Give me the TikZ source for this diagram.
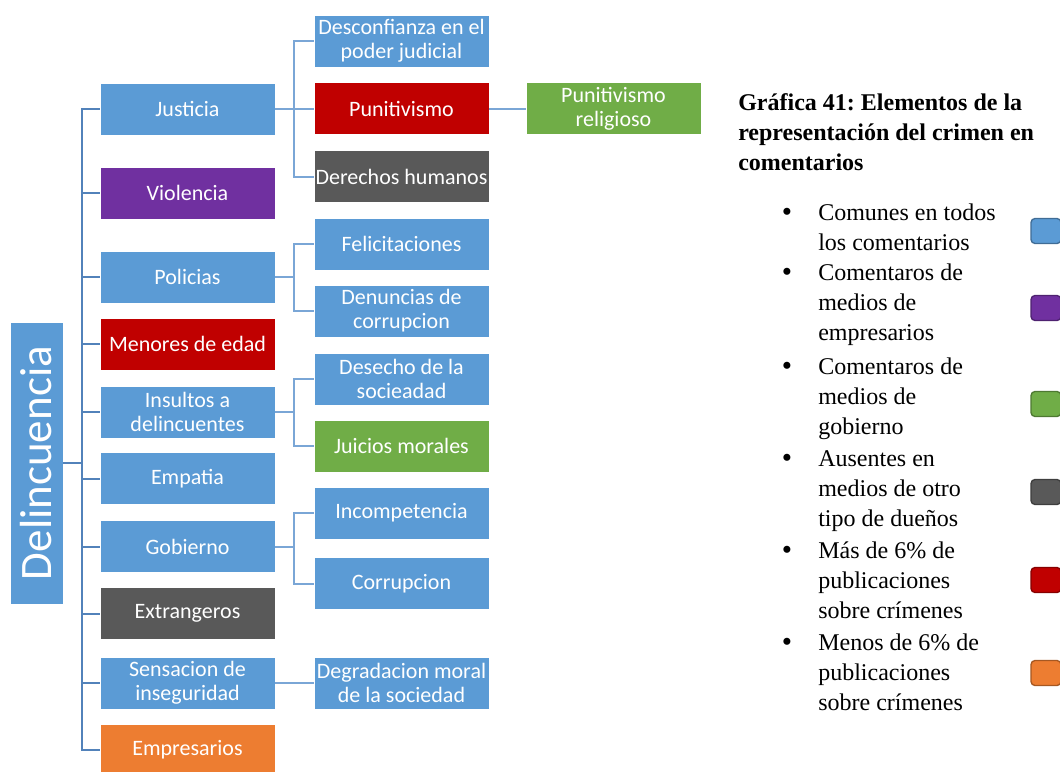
\documentclass[tikz,border=0pt]{standalone}
\usepackage{fontspec}
\setmainfont{Liberation Serif}
\newfontfamily\boxfont{Carlito}
\usetikzlibrary{calc}
\frenchspacing
\definecolor{cblue}{HTML}{5B9BD5}
\definecolor{cpurple}{HTML}{7030A0}
\definecolor{cred}{HTML}{C00000}
\definecolor{cgray}{HTML}{595959}
\definecolor{cgreen}{HTML}{70AD47}
\definecolor{corange}{HTML}{ED7D31}
\definecolor{clink}{HTML}{7AA6D6}
\definecolor{ctrunk}{HTML}{5282BA}
\begin{document}
\begin{tikzpicture}[x=0.75pt,y=-0.75pt,
  box/.style={rectangle, draw=white, line width=0.6pt, text=white,
    font=\boxfont\fontsize{16.5}{18}\selectfont, minimum width=131.25pt,
    minimum height=39pt, align=center, inner sep=1pt},
  rootbox/.style={rectangle, fill=cblue, draw=white, line width=0.6pt, text=white,
    font=\boxfont\fontsize{33.75}{36}\selectfont, minimum width=211.5pt,
    minimum height=39.75pt, inner sep=0pt},
  link/.style={draw=clink, line width=1.5pt},
  trunk/.style={draw=ctrunk, line width=1.5pt},
  title/.style={anchor=base west, align=left, font=\bfseries\fontsize{18}{22.5}\selectfont, inner sep=0pt},
  item/.style={anchor=base west, align=left, font=\fontsize{18}{22.5}\selectfont, inner sep=0pt},
  bul/.style={anchor=base, font=\fontsize{22}{22.5}\selectfont, inner sep=0pt},
  leg/.style={rectangle, rounded corners=3pt, line width=1pt, minimum width=22.5pt, minimum height=18.75pt, inner sep=0pt}
]
\useasboundingbox (0,0) rectangle (1060,771);

% root
\node[rootbox, rotate=90] (root) at (36.5,463) {Delincuencia};

% level 1
\node[box, fill=cblue]   (j)   at (187.5,109)   {Justicia};
\node[box, fill=cpurple] (v)   at (187.5,193)   {Violencia};
\node[box, fill=cblue]   (p)   at (187.5,277)   {Policias};
\node[box, fill=cred]    (m)   at (187.5,344)   {Menores de edad};
\node[box, fill=cblue]   (ins) at (187.5,412)   {Insultos a\\delincuentes};
\node[box, fill=cblue]   (e)   at (187.5,478.5) {Empatia};
\node[box, fill=cblue]   (g)   at (187.5,546.5) {Gobierno};
\node[box, fill=cgray]   (x)   at (187.5,613.5) {Extrangeros};
\node[box, fill=cblue]   (s)   at (187.5,683)   {Sensacion de\\inseguridad};
\node[box, fill=corange] (emp) at (187.5,750)   {Empresarios};

% level 2
\node[box, fill=cblue]  (d1)  at (401.5,41)    {Desconfianza en el\\poder judicial};
\node[box, fill=cred]   (pun) at (401.5,108.5) {Punitivismo};
\node[box, fill=cgray]  (dh)  at (401.5,176.5) {Derechos humanos};
\node[box, fill=cblue]  (fe)  at (401.5,244)   {Felicitaciones};
\node[box, fill=cblue]  (dc)  at (401.5,311)   {Denuncias de\\corrupcion};
\node[box, fill=cblue]  (ds)  at (401.5,379)   {Desecho de la\\socieadad};
\node[box, fill=cgreen] (jm)  at (401.5,446)   {Juicios morales};
\node[box, fill=cblue]  (inc) at (401.5,513)   {Incompetencia};
\node[box, fill=cblue]  (cor) at (401.5,583.5) {Corrupcion};
\node[box, fill=cblue]  (dg)  at (401.5,683)   {Degradacion moral\\de la sociedad};

% level 3
\node[box, fill=cgreen] (pr) at (613.5,108.5) {Punitivismo\\religioso};

% trunk
\coordinate (tr) at (82,463);
\draw[trunk] (root.south) -- (tr);
\foreach \n in {j,v,p,m,ins,e,g,x,s,emp} \draw[trunk] (tr) |- (\n.west);

% branches
\foreach \n in {d1,pun,dh} \draw[link] (j.east) -- +(19,0) |- (\n.west);
\foreach \n in {fe,dc} \draw[link] (p.east) -- +(19,0) |- (\n.west);
\foreach \n in {ds,jm} \draw[link] (ins.east) -- +(19,0) |- (\n.west);
\foreach \n in {inc,cor} \draw[link] (g.east) -- +(19,0) |- (\n.west);
\draw[link] (s.east) -- (dg.west);
\draw[link] (pun.east) -- (pr.west);

% legend
\node[title] (t1) at (738,110) {Gráfica 41: Elementos de la};
\node[title] (t2) at (738,140) {representación del crimen en};
\node[title] (t3) at (738,170) {comentarios};

% item nodes anchored at the baseline of their last line
\node[bul] (b1) at (787,221) {•};
\node[item] (i1) at (818,250) {Comunes en todos\\los comentarios};
\node[bul] (b2) at (787,281) {•};
\node[item] (i2) at (818,340) {Comentaros de\\medios de\\empresarios};
\node[bul] (b3) at (787,375) {•};
\node[item] (i3) at (818,434) {Comentaros de\\medios de\\gobierno};
\node[bul] (b4) at (787,467) {•};
\node[item] (i4) at (818,526) {Ausentes en\\medios de otro\\tipo de dueños};
\node[bul] (b5) at (787,559) {•};
\node[item] (i5) at (818,618) {Más de 6\% de\\publicaciones\\sobre crímenes};
\node[bul] (b6) at (787,651) {•};
\node[item] (i6) at (818,710) {Menos de 6\% de\\publicaciones\\sobre crímenes};

\node[leg, fill=cblue,   draw=cblue!70!black]   (l1) at (1046,231) {};
\node[leg, fill=cpurple, draw=cpurple!70!black] (l2) at (1046,308) {};
\node[leg, fill=cgreen,  draw=cgreen!70!black]  (l3) at (1046,404) {};
\node[leg, fill=cgray,   draw=cgray!70!black]   (l4) at (1046,492) {};
\node[leg, fill=cred,    draw=cred!70!black]    (l5) at (1046,580) {};
\node[leg, fill=corange, draw=corange!70!black] (l6) at (1046,673) {};
\end{tikzpicture}
\end{document}
